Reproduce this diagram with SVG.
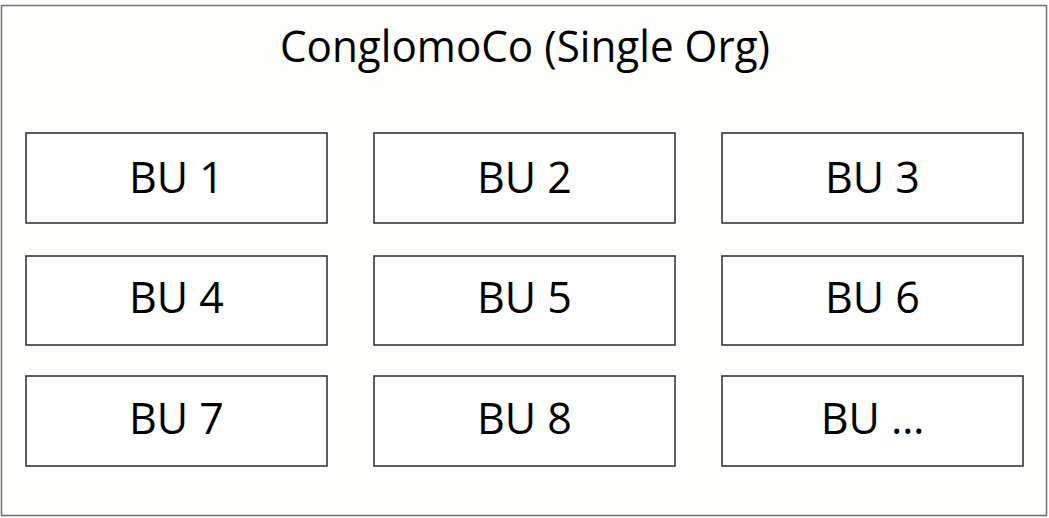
<svg xmlns="http://www.w3.org/2000/svg" width="1049" height="518" viewBox="0 0 1049 518">
<style>
.bu rect{fill:#ffffff;stroke:#2a2a2a;stroke-width:1.5}
.bu text{font-family:"Open Sans","DejaVu Sans",sans-serif;font-size:43px;fill:#000;text-anchor:middle}
.title{font-family:"Open Sans","DejaVu Sans",sans-serif;font-size:43px;fill:#000;text-anchor:middle}
</style>
<rect x="0" y="0" width="1049" height="518" fill="#fefefd"/>
<g id="org">
<rect x="1.5" y="5.5" width="1045" height="510" fill="#fefefd" stroke="#6f6f6f" stroke-width="1.5"/>
<text class="title" x="525" y="62" textLength="490" lengthAdjust="spacingAndGlyphs">ConglomoCo (Single Org)</text>
</g>
<g id="bu1" class="bu"><rect x="26" y="133" width="301" height="90"/><text x="176.5" y="193">BU 1</text></g>
<g id="bu2" class="bu"><rect x="374" y="133" width="301" height="90"/><text x="524.5" y="193">BU 2</text></g>
<g id="bu3" class="bu"><rect x="722" y="133" width="301" height="90"/><text x="872.5" y="193">BU 3</text></g>
<g id="bu4" class="bu"><rect x="26" y="256" width="301" height="89"/><text x="176.5" y="313">BU 4</text></g>
<g id="bu5" class="bu"><rect x="374" y="256" width="301" height="89"/><text x="524.5" y="313">BU 5</text></g>
<g id="bu6" class="bu"><rect x="722" y="256" width="301" height="89"/><text x="872.5" y="313">BU 6</text></g>
<g id="bu7" class="bu"><rect x="26" y="376" width="301" height="90"/><text x="176.5" y="434">BU 7</text></g>
<g id="bu8" class="bu"><rect x="374" y="376" width="301" height="90"/><text x="524.5" y="434">BU 8</text></g>
<g id="bu9" class="bu"><rect x="722" y="376" width="301" height="90"/><text x="872.5" y="434">BU …</text></g>
<g id="connectors"/>
</svg>
